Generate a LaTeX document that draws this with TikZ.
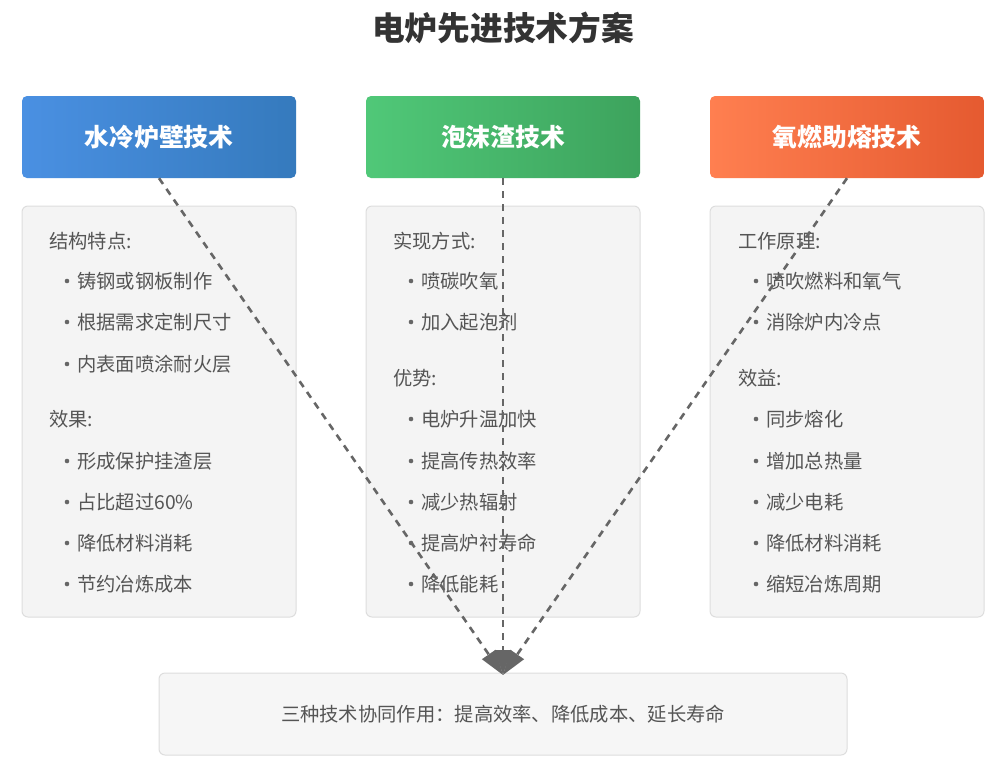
\documentclass[tikz,border=0pt]{standalone}
\usepackage{fontspec}
\setmainfont{Noto Sans CJK SC}
\usetikzlibrary{arrows.meta}
\definecolor{titlec}{HTML}{333333}
\definecolor{textc}{HTML}{555555}
\definecolor{bulc}{HTML}{666666}
\definecolor{linec}{HTML}{666666}
\definecolor{cardfill}{HTML}{F4F4F4}
\definecolor{cardline}{HTML}{DDDDDD}
\definecolor{botfill}{HTML}{F6F6F6}
\definecolor{blueL}{HTML}{4A90E2}
\definecolor{blueR}{HTML}{357ABD}
\definecolor{greenL}{HTML}{50C878}
\definecolor{greenR}{HTML}{3DA35D}
\definecolor{orangeL}{HTML}{FF7F50}
\definecolor{orangeR}{HTML}{E55A30}
\tikzset{
  hdr/.style={rounded corners=5pt, minimum width=274pt, minimum height=82pt, text=white,
    font=\bfseries\fontsize{24.8}{29}\selectfont, inner sep=0pt},
  card/.style={rounded corners=6pt, minimum width=274pt, minimum height=411pt,
    fill=cardfill, draw=cardline, line width=1pt},
  lbl/.style={anchor=west, inner sep=0pt, text=textc, font=\fontsize{19.3}{23}\selectfont},
  bul/.style={fill=bulc},
  link/.style={draw=linec, line width=2.6pt, dash pattern=on 7pt off 6pt,
    -{Triangle[length=25pt,width=16pt]}}
}
\begin{document}
\begin{tikzpicture}[x=1pt,y=-1pt]
\useasboundingbox (0,0) rectangle (1000,761);
\fill[white] (0,0) rectangle (1000,761);

\node[font=\bfseries\fontsize{32.7}{38}\selectfont, text=titlec] (title) at (503,28) {电炉先进技术方案};

% headers
\node[hdr, left color=blueL, right color=blueR] (h1) at (159,137) {水冷炉壁技术};
\node[hdr, left color=greenL, right color=greenR] (h2) at (503,137) {泡沫渣技术};
\node[hdr, left color=orangeL, right color=orangeR] (h3) at (847,137) {氧燃助熔技术};

% cards
\node[card] (c1) at (159,411.5) {};
\node[card] (c2) at (503,411.5) {};
\node[card] (c3) at (847,411.5) {};

% bottom box
\node[rounded corners=6pt, minimum width=688pt, minimum height=82pt, fill=botfill, draw=cardline,
  line width=1pt, text=textc, font=\fontsize{19.3}{23}\selectfont] (bot) at (503,714)
  {三种技术协同作用：提高效率、降低成本、延长寿命};

% left column
\node[lbl] (l1h) at (49,241) {结构特点:};
\foreach \t/\y [count=\i] in {铸钢或钢板制作/281, 根据需求定制尺寸/322, 内表面喷涂耐火层/364}{
  \fill[bul] (67,\y) circle (2.3);
  \node[lbl] (l1i\i) at (77,\y) {\t};
}
\node[lbl] (l2h) at (49,419) {效果:};
\foreach \t/\y [count=\i] in {形成保护挂渣层/461, 占比超过60\%/502, 降低材料消耗/543, 节约冶炼成本/584}{
  \fill[bul] (67,\y) circle (2.3);
  \node[lbl] (l2i\i) at (77,\y) {\t};
}

% middle column
\node[lbl] (m1h) at (393,241) {实现方式:};
\foreach \t/\y [count=\i] in {喷碳吹氧/281, 加入起泡剂/322}{
  \fill[bul] (411,\y) circle (2.3);
  \node[lbl] (m1i\i) at (421,\y) {\t};
}
\node[lbl] (m2h) at (393,378) {优势:};
\foreach \t/\y [count=\i] in {电炉升温加快/419, 提高传热效率/461, 减少热辐射/502, 提高炉衬寿命/543, 降低能耗/584}{
  \fill[bul] (411,\y) circle (2.3);
  \node[lbl] (m2i\i) at (421,\y) {\t};
}

% right column
\node[lbl] (r1h) at (738,241) {工作原理:};
\foreach \t/\y [count=\i] in {喷吹燃料和氧气/281, 消除炉内冷点/322}{
  \fill[bul] (756,\y) circle (2.3);
  \node[lbl] (r1i\i) at (766,\y) {\t};
}
\node[lbl] (r2h) at (738,378) {效益:};
\foreach \t/\y [count=\i] in {同步熔化/419, 增加总热量/461, 减少电耗/502, 降低材料消耗/543, 缩短冶炼周期/584}{
  \fill[bul] (756,\y) circle (2.3);
  \node[lbl] (r2i\i) at (766,\y) {\t};
}

% connectors
\coordinate (meet) at (503,675);
\draw[link] (h1.south) -- (meet);
\draw[link] (h2.south) -- (meet);
\draw[link] (h3.south) -- (meet);
\end{tikzpicture}
\end{document}
